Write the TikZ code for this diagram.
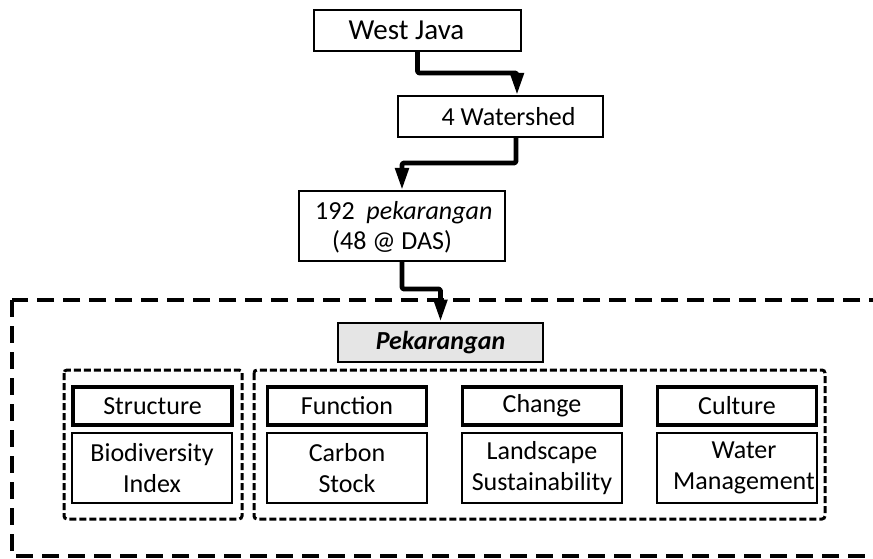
\documentclass[tikz,border=0pt]{standalone}
\usepackage{fontspec}
\setmainfont{Carlito}
\usetikzlibrary{arrows.meta}
\begin{document}
\begin{tikzpicture}[x=1pt,y=-1pt,
  box/.style={draw=black,line width=2pt,inner sep=0pt,font=\fontsize{26}{31}\selectfont},
  hdr/.style={draw=black,line width=3.8pt,inner sep=0pt,minimum width=159,minimum height=38,font=\fontsize{26}{30}\selectfont},
  cnt/.style={draw=black,line width=1.6pt,inner sep=0pt,minimum width=160,minimum height=70,align=center,font=\fontsize{26}{31}\selectfont},
  arr/.style={line width=4.8pt,line join=round,rounded corners=2pt,-{Triangle[width=13pt,length=22pt]}},
  grp/.style={draw=black,line width=3pt,dash pattern=on 7pt off 3pt,rounded corners=3pt},
  txt/.style={inner sep=0pt,font=\fontsize{26}{30}\selectfont}
]
\useasboundingbox (0,0) rectangle (873,559);
% outer dashed region
\draw[line width=4.5pt,dash pattern=on 17pt off 9pt] (12,300) rectangle (895,556);
% top chain
\node[box,minimum width=207,minimum height=41,font=\fontsize{29}{33}\selectfont] (wj) at (417.5,30.5) {\hspace*{-22pt}West Java};
\node[box,minimum width=205,minimum height=41] (ws) at (500.5,116.5) {\hspace*{16pt}4 Watershed};
\node[box,minimum width=206,minimum height=70] (pg) at (402,226) {};
\node[txt,anchor=west,align=left] (pgt) at (315,227) {192\ \ \textit{pekarangan}\\\hspace*{17pt}(48 @ DAS)};
\node[draw=black,line width=2.8pt,fill=black!10,minimum width=205,minimum height=39,inner sep=0pt,font=\fontsize{26}{30}\selectfont\bfseries\itshape] (pk) at (440.5,342.5) {Pekarangan};
% arrows
\draw[arr] (wj.south) -- (417.5,73) -- (517,73) -- ([xshift=16.5]ws.north);
\draw[arr] ([xshift=15.5]ws.south) -- (516,163) -- (402,163) -- (pg.north);
\draw[arr] (pg.south) -- (402,289) -- (440.5,289) -- (pk.north);
% groups
\draw[grp] (64,370) rectangle (242,519);
\draw[grp] (254,370) rectangle (825,519);
% headers and contents
\node[hdr] (h1) at (152.5,406) {Structure};
\node[cnt] (c1) at (152,468) {Biodiversity\\Index};
\node[hdr] (h2) at (347,406) {Function};
\node[cnt] (c2) at (347,468) {Carbon\\Stock};
\node[hdr] (h3) at (542,406) {Change};
\node[cnt] (c3) at (542,468) {Landscape\\Sustainability};
\node[hdr] (h4) at (737,406) {Culture};
\node[cnt] (c4) at (737,468) {\hspace*{14pt}Water\\\hspace*{14pt}Management};
\end{tikzpicture}
\end{document}
